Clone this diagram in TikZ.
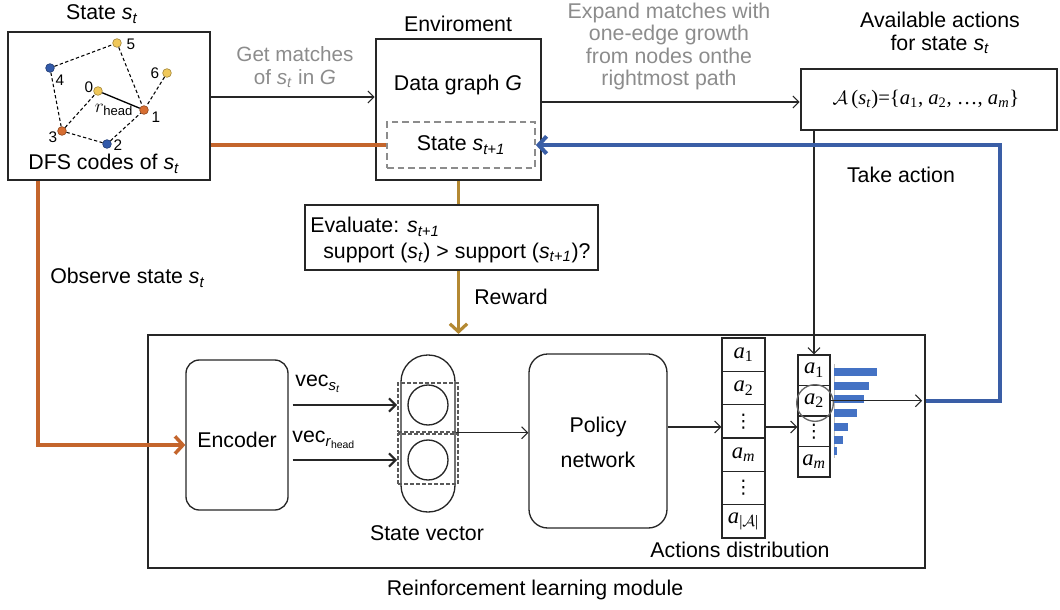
\documentclass[tikz,border=0pt]{standalone}
\usepackage{fontspec}
\setmainfont{Liberation Sans}
\newfontfamily\tms{Liberation Serif}
\newfontfamily\djv{DejaVu Sans}
\usetikzlibrary{arrows.meta,fit,calc}

\definecolor{rust}{RGB}{196,101,44}
\definecolor{ochre}{RGB}{180,137,50}
\definecolor{navy}{RGB}{58,94,166}
\definecolor{barblue}{RGB}{68,114,196}
\definecolor{softgray}{RGB}{140,140,140}
\definecolor{ndyellow}{RGB}{240,200,90}
\definecolor{ndblue}{RGB}{50,90,170}
\definecolor{ndorange}{RGB}{215,110,50}

% italic symbol with italic subscript, e.g. s_t
\newcommand{\isub}[2]{\textit{#1}\textsubscript{\textit{#2}}}
% serif action symbol a_k
\newcommand{\act}[1]{{\tms\textit{a}\textsubscript{#1}}}
% vertical ellipsis for the action columns
\newcommand{\vdts}{{\djv\fontsize{14}{16}\selectfont ⋮}}

\tikzset{
  box/.style={draw=black!85, line width=1.9pt, inner sep=0pt},
  softbox/.style={draw=black!85, line width=1pt, inner sep=0pt},
  link/.style={draw=black!85, line width=0.8pt, -{Straight Barb[length=4.5pt,width=9pt]}},
  veclink/.style={draw=black!85, line width=1.6pt, -{Straight Barb[length=5pt,width=10pt]}},
  cell/.style={draw=black!85, line width=1pt, minimum width=32.25pt, minimum height=25pt,
               font=\fontsize{17}{19}\selectfont\tms},
  cellb/.style={draw=black!85, line width=1pt, minimum width=24pt, minimum height=22.9pt,
               font=\fontsize{17}{19}\selectfont\tms},
  gnode/.style={circle, minimum size=6.5pt, line width=0.5pt},
  gedge/.style={line width=0.8pt, dash pattern=on 2.5pt off 1.8pt},
  rustline/.style={draw=rust, line width=2.6pt},
  ochreline/.style={draw=ochre, line width=2.4pt},
  navyline/.style={draw=navy, line width=3pt},
  bigtip/.style={-{Straight Barb[length=6pt,width=13pt]}},
  numlabel/.style={font=\fontsize{11.5}{13}\selectfont},
}

\begin{document}
\begin{tikzpicture}[x=0.75pt,y=-0.75pt,
  every node/.style={font=\fontsize{16}{17.3}\selectfont, inner sep=0pt}]
\useasboundingbox (0,0) rectangle (1060,610);

% ---------- current state s_t ----------
\node[box, fit={(8,32)(210,180)}] (stbox) {};
\node at (102,14) {State \isub{s}{t}};
\node at (104,164) {DFS codes of \isub{s}{t}};

\foreach \n/\x/\y/\c in {v5/117/43/ndyellow, v4/50/68/ndblue, v6/167/73/ndyellow,
                         v0/98/91/ndyellow, v1/144/110/ndorange, v3/62/131/ndorange,
                         v2/107/144/ndblue}
  \node[gnode, fill=\c, draw=\c!70!black] (\n) at (\x,\y) {};
\foreach \a/\b in {v4/v5, v5/v1, v6/v1, v4/v3, v3/v0, v3/v2, v2/v1}
  \draw[gedge] (\a) -- (\b);
\draw[line width=1pt] (v0) -- (v1);
\node[numlabel] at (131,44) {5};
\node[numlabel] at (60,80) {4};
\node[numlabel] at (155,73) {6};
\node[numlabel] at (89,87) {0};
\node[numlabel] at (156,117) {1};
\node[numlabel] at (53,137) {3};
\node[numlabel] at (118,145) {2};
\node[font=\fontsize{14}{16}\selectfont] at (114,110) {$r_{\mathrm{head}}$};

% ---------- environment ----------
\node[box, fit={(376,39)(541,180)}] (env) {};
\node at (458,24) {Enviroment};
\node at (458,85) {Data graph \textit{G}};
\node[draw=softgray, line width=1.3pt, dash pattern=on 5pt off 3pt,
      fit={(387,122)(535,168)}] (sd) {};
\node at (461,145) {State \isub{s}{t+1}};

% ---------- available actions ----------
\node[box, fit={(801,69)(1057,130)}] (avail) {};
\node[align=center] at (940,33) {Available actions\\for state \isub{s}{t}};
\node[font=\fontsize{15.5}{18}\selectfont\tms] at (926,100)
  {$\mathcal{A}$\,(\textit{s}\textsubscript{\textit{t}})=\{\act{1}, \act{2}, \ldots, \act{\textit{m}}\}};

% ---------- evaluation ----------
\node[box, line width=1.5pt, fit={(305,205)(598,270)}] (eval) {};
\node[anchor=west] at (310,227) {Evaluate: \isub{s}{t+1}};
\node[anchor=west] at (323,253) {support (\isub{s}{t}) > support (\isub{s}{t+1})?};

% ---------- reinforcement learning module ----------
\node[box, line width=1.6pt, fit={(148,335)(925,568)}] (rl) {};
\node at (535,590) {Reinforcement learning module};

\node[softbox, rounded corners=10pt, fit={(186,360)(288,510)}] (enc) {};
\node at (237,440) {Encoder};

\node[softbox, rounded corners=20pt, fit={(401,355)(455,512)}] (sv) {};
\node[circle, draw=black!85, line width=1pt, minimum size=30pt] (c1) at (428,405) {};
\node[circle, draw=black!85, line width=1pt, minimum size=30pt] (c2) at (428,460) {};
\node[draw=black!65, line width=1.2pt, dash pattern=on 3pt off 1.5pt, fit={(398,383)(458,432)}] (d1) {};
\node[draw=black!65, line width=1.2pt, dash pattern=on 3pt off 1.5pt, fit={(398,434)(458,484)}] (d2) {};
\node at (427,533) {State vector};

\node at (318,384) {vec\textsubscript{\isub{s}{t}}};
\node at (324,440) {vec\textsubscript{\textit{r}\textsubscript{head}}};
\draw[veclink] ([xshift=3pt]enc.east |- c1) -- (d1.west |- c1);
\draw[veclink] ([xshift=3pt]enc.east |- c2) -- (d2.west |- c2);

\node[softbox, rounded corners=14pt, fit={(529,354)(667,528)}] (pol) {};
\node at (598,427) {Policy};
\node at (598,460) {network};
\draw[link] (sv.east |- d1.south) -- (pol.west |- d1.south);

% full action distribution
\foreach \i/\t in {1/\act{1}, 2/\act{2}, 3/\vdts, 4/\act{\textit{m}}, 5/\vdts,
                   6/{\act{|$\mathcal{A}$|}}}
  \node[cell] (a\i) at (743.5,{338+33.333*(\i-0.5)}) {\t};
\node at (740,550) {Actions distribution};

% available actions with their probabilities
\foreach \i/\t in {1/\act{1}, 2/\act{2}, 3/\vdts, 4/\act{\textit{m}}}
  \node[cellb] (b\i) at (814,{355+30.5*(\i-0.5)}) {\t};
\node[circle, draw=black!60, line width=1pt, minimum size=27.5pt] (pick) at (815,403) {};
\draw[black!25, line width=0.5pt] (834,364) -- (834,458);
\foreach \y/\w in {372/43, 386/35, 399/30, 413/23, 427/14, 440/9, 451/3}
  \fill[barblue] (834,\y-4) rectangle ++(\w,8);

\coordinate (ya) at (0,427);
\draw[link] (pol.east |- ya) -- (a3.west |- ya);
\draw[link] (a3.east |- ya) -- (b3.west |- ya);
\draw[link] (b2.east) -- ([xshift=-3pt]rl.east |- b2.east);
\draw[link] (b1.north |- avail.south) -- (b1.north);

% ---------- top connectors ----------
\coordinate (ym) at (0,97);
\draw[link] (stbox.east |- ym) -- (env.west |- ym);
\node[text=softgray, align=center, font=\fontsize{15.5}{17}\selectfont] at (295,67)
  {Get matches\\of \isub{s}{t} in \textit{G}};

\coordinate (ye) at (0,102);
\draw[link] (env.east |- ye) -- (avail.west |- ye);
\node[text=softgray, align=center, font=\fontsize{16}{16.7}\selectfont] at (669,46.5)
  {Expand matches with\\one-edge growth\\from nodes onthe\\rightmost path};

% ---------- coloured flows ----------
\draw[rustline] (stbox.east |- sd.west) -- (sd.west);
\coordinate (obs) at (38,445);
\draw[rustline, bigtip] (obs |- stbox.south) -- (obs) -- (enc.west |- obs);
\node[anchor=west] at (50,278) {Observe state \isub{s}{t}};

\draw[ochreline] (env.south) -- (env.south |- eval.north);
\draw[ochreline, bigtip] (env.south |- eval.south) -- (env.south |- rl.north);
\node[anchor=west] at (474,297) {Reward};

\coordinate (bturn) at (1000,146);
\draw[navyline, bigtip] (rl.east |- b2.east) -- (bturn |- b2.east) -- (bturn |- sd.east) -- (sd.east);
\node at (901,175) {Take action};

\end{tikzpicture}
\end{document}
